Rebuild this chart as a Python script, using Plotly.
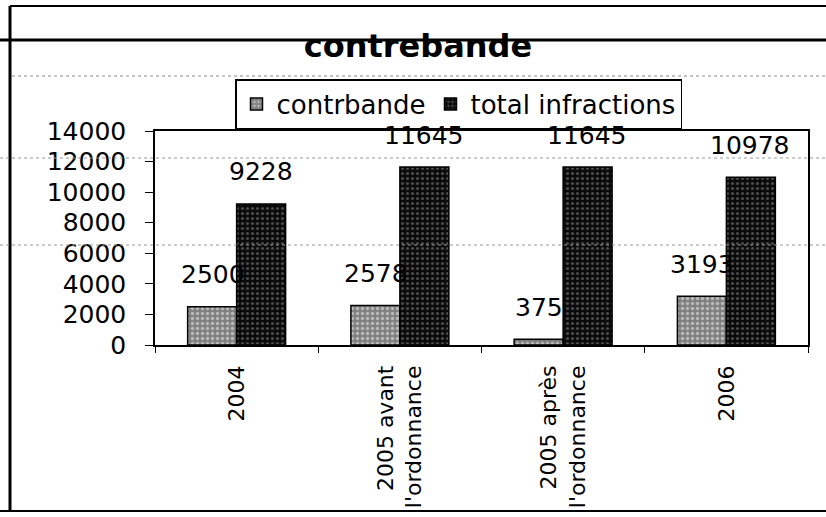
import plotly.graph_objects as go

categories = ["2004", "2005 avant<br>l'ordonnance", "2005 après<br>l'ordonnance", "2006"]
contrbande = [2500, 2578, 375, 3193]
total_infractions = [9228, 11645, 11645, 10978]
y_ticks = [0, 2000, 4000, 6000, 8000, 10000, 12000, 14000]

W, H = 826, 517
L, R, T, B = 155, 18, 131, 172
FONT = "DejaVu Sans"

fig = go.Figure()
fig.add_trace(go.Bar(
    name="contrbande", x=categories, y=contrbande,
    marker=dict(color="#8c8c8c", line=dict(color="black", width=1.5),
                pattern=dict(shape=".", fgcolor="#f2f2f2", bgcolor="#808080", size=5, solidity=0.35)),
))
fig.add_trace(go.Bar(
    name="total infractions", x=categories, y=total_infractions,
    marker=dict(color="#111111", line=dict(color="black", width=1.5),
                pattern=dict(shape=".", fgcolor="#8a8a8a", bgcolor="#0a0a0a", size=5, solidity=0.3)),
))

# data labels (x given as category index)
ann = []
for i, v in enumerate(contrbande):
    ann.append(dict(x=i, y=v, text=str(v), showarrow=False, xshift=-24, yshift=32,
                    font=dict(family=FONT, size=25, color="black")))
for i, v in enumerate(total_infractions):
    ann.append(dict(x=i, y=v, text=str(v), showarrow=False, xshift=24, yshift=32,
                    font=dict(family=FONT, size=25, color="black")))

pw = W - L - R
ph = H - T - B
def px(x):
    return (x - L) / pw
def py(y):
    return (H - B - y) / ph

shapes = [
    dict(type="line", xref="paper", yref="paper", x0=px(10), x1=px(826), y0=py(6), y1=py(6),
         line=dict(color="black", width=2)),
    dict(type="line", xref="paper", yref="paper", x0=px(0), x1=px(826), y0=py(40), y1=py(40),
         line=dict(color="black", width=3)),
    dict(type="line", xref="paper", yref="paper", x0=px(10), x1=px(10), y0=py(6), y1=py(511),
         line=dict(color="black", width=3)),
    dict(type="line", xref="paper", yref="paper", x0=px(0), x1=px(826), y0=py(511), y1=py(511),
         line=dict(color="black", width=2)),
    dict(type="line", xref="paper", yref="paper", x0=px(12), x1=px(826), y0=py(76), y1=py(76),
         line=dict(color="#888", width=1, dash="dot")),
    dict(type="line", xref="paper", yref="paper", x0=px(0), x1=px(826), y0=py(158), y1=py(158),
         line=dict(color="#999", width=1, dash="dot")),
    dict(type="line", xref="paper", yref="paper", x0=px(0), x1=px(826), y0=py(245), y1=py(245),
         line=dict(color="#999", width=1, dash="dot")),
]

fig.update_layout(
    width=W, height=H,
    margin=dict(l=L, r=R, t=T, b=B, autoexpand=False),
    paper_bgcolor="white", plot_bgcolor="white",
    barmode="group", bargap=0.4, bargroupgap=0,
    title=dict(text="<b>contrebande</b>", x=418 / W, xanchor="center", y=1 - 46 / H, yanchor="middle",
               font=dict(family=FONT, size=32, color="black")),
    legend=dict(orientation="h", x=px(235), xanchor="left", y=py(79), yanchor="top",
                bordercolor="black", borderwidth=1.5, bgcolor="white",
                font=dict(family=FONT, size=26, color="black"), itemwidth=30),
    annotations=ann,
    shapes=shapes,
    showlegend=True,
)
fig.update_xaxes(
    type="category", range=[-0.5, len(categories) - 0.5],
    showline=True, linecolor="black", linewidth=1.5, mirror=True,
    ticks="outside", tickson="boundaries", ticklen=6, tickcolor="black",
    tickangle=-90, tickfont=dict(family=FONT, size=22, color="black"),
    ticklabelstandoff=10,
    showgrid=False,
)
fig.update_yaxes(
    range=[0, 14000], tickvals=y_ticks, ticktext=[str(t) for t in y_ticks],
    showline=True, linecolor="black", linewidth=1.5, mirror=True,
    ticks="outside", ticklen=8, tickcolor="black",
    tickfont=dict(family=FONT, size=25, color="black"),
    ticklabelstandoff=14,
    showgrid=False, zeroline=False,
)
fig.write_html("out.html", config={"displayModeBar": False},
               post_script="document.body.style.margin='0';")
